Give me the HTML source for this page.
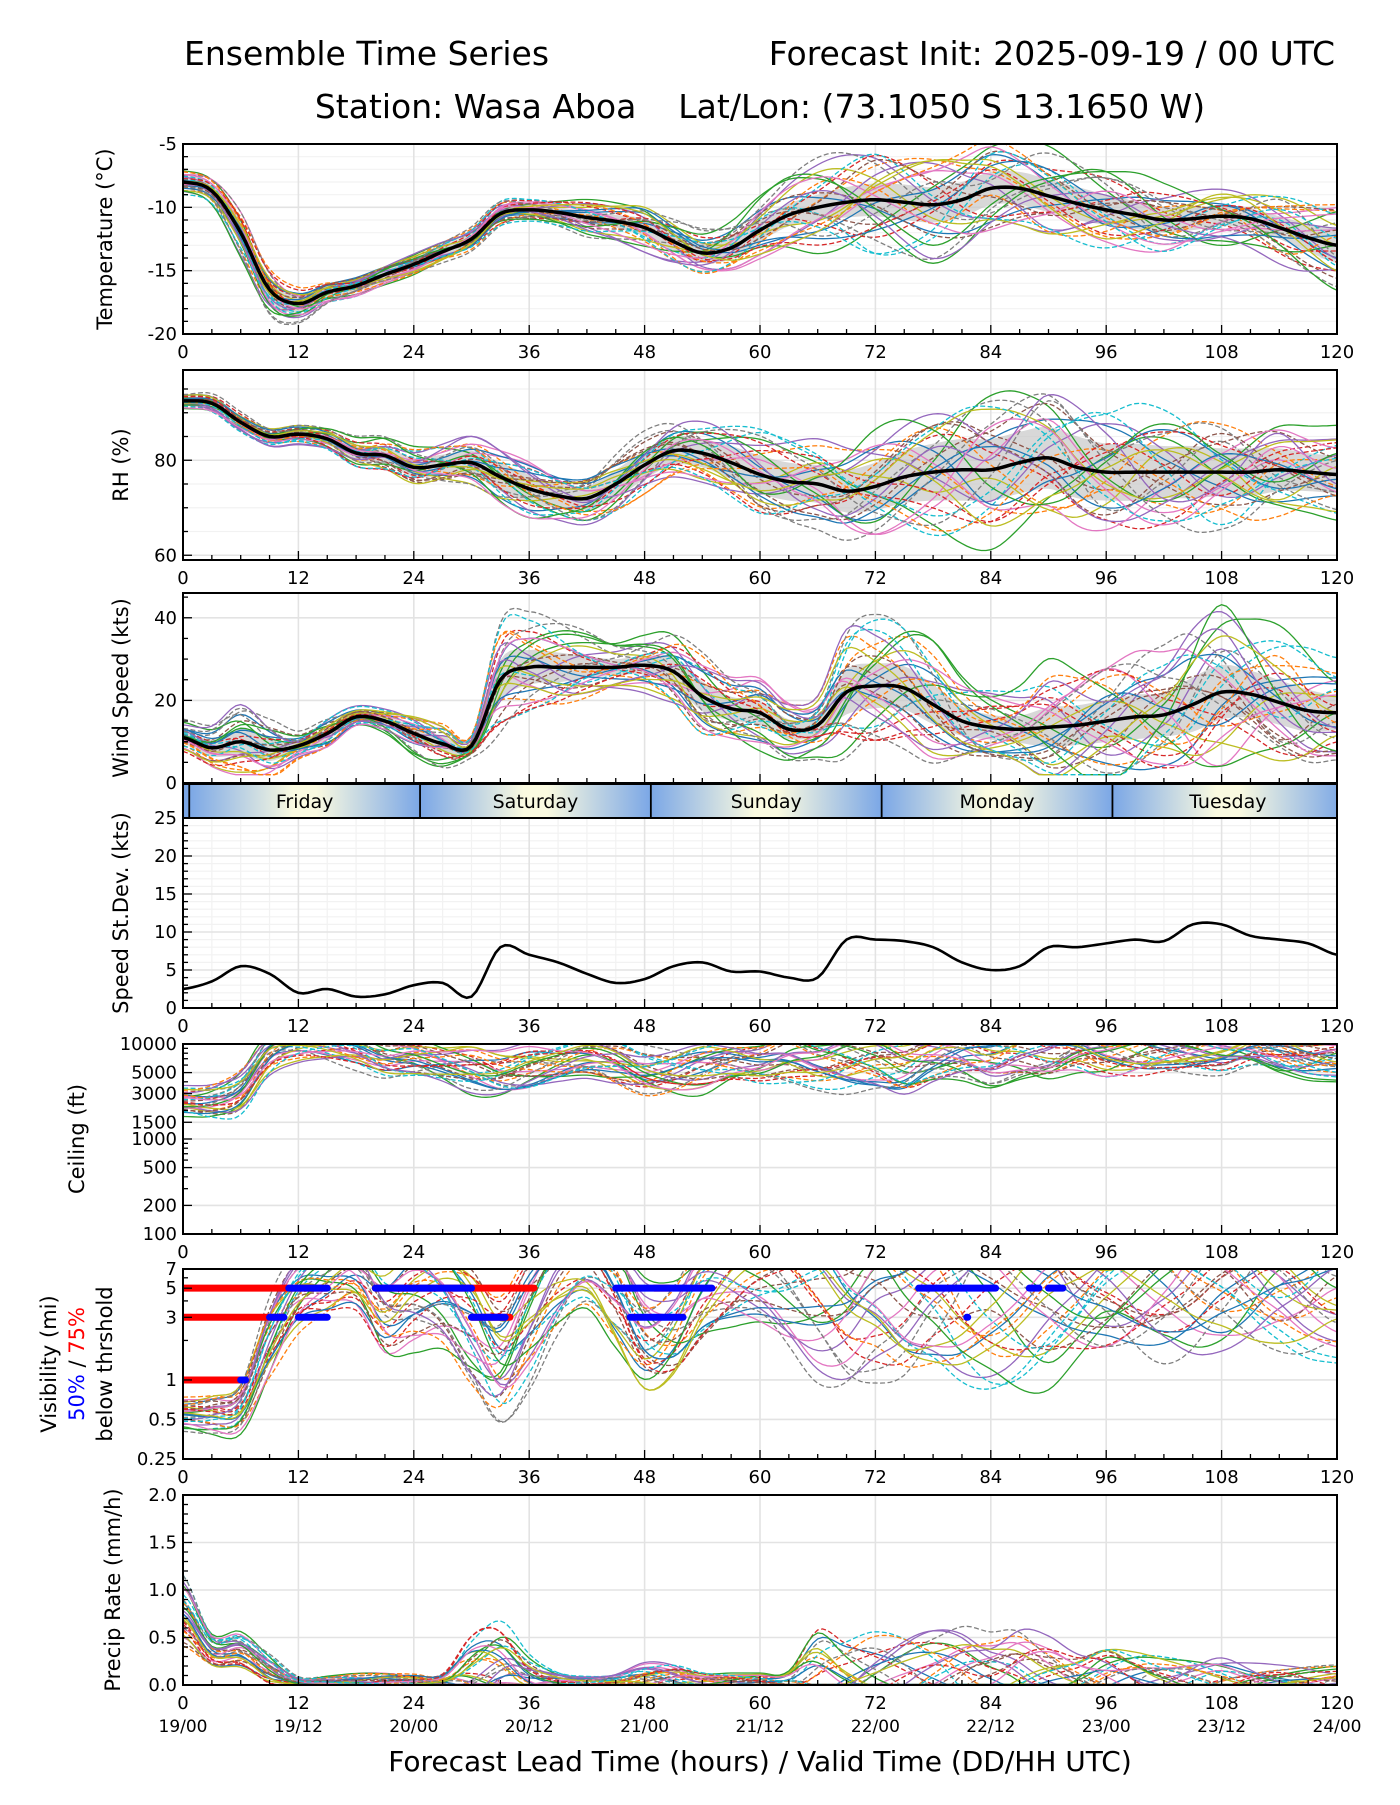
<!DOCTYPE html>
<html><head><meta charset="utf-8"><style>
html,body{margin:0;padding:0;background:#fff}
svg text{font-family:"DejaVu Sans","Liberation Sans",sans-serif}
</style></head><body>
<svg id="chart" xmlns="http://www.w3.org/2000/svg" width="1400" height="1800" viewBox="0 0 1400 1800">
<rect width="1400" height="1800" fill="#fff"/>
<text x="184" y="65" font-size="33">Ensemble Time Series</text>
<text x="1335" y="65" font-size="33" text-anchor="end">Forecast Init: 2025-09-19 / 00 UTC</text>
<text x="760" y="118" font-size="33" text-anchor="middle" xml:space="preserve">Station: Wasa Aboa    Lat/Lon: (73.1050 S 13.1650 W)</text>
<g id="plots"></g>
<text x="760" y="1771" font-size="28" text-anchor="middle">Forecast Lead Time (hours) / Valid Time (DD/HH UTC)</text>
</svg>
<script>
// ---- data ----
const hours = [0,3,6,9,12,15,18,21,24,27,30,33,36,39,42,45,48,51,54,57,60,63,66,69,72,75,78,81,84,87,90,93,96,99,102,105,108,111,114,117,120];
const tempMean = [-8,-8.7,-12,-16.5,-17.6,-16.7,-16.2,-15.3,-14.5,-13.5,-12.5,-10.5,-10.2,-10.4,-10.8,-11.1,-11.6,-12.7,-13.6,-13.2,-11.8,-10.6,-10.0,-9.6,-9.4,-9.6,-9.8,-9.4,-8.5,-8.5,-9.1,-9.7,-10.2,-10.6,-11.0,-10.9,-10.7,-10.9,-11.6,-12.4,-13.0];
const tempSpread = [0.5,0.6,0.9,0.9,0.7,0.6,0.5,0.5,0.5,0.5,0.5,0.5,0.4,0.4,0.5,0.5,0.7,0.8,0.8,0.9,0.9,0.9,1.0,1.2,1.3,1.4,1.4,1.4,1.3,1.3,1.3,1.3,1.2,1.1,1.0,0.9,0.8,0.8,0.9,1.1,1.4];
const tempMemberSpread = [0.6,0.7,1.1,1.1,0.8,0.6,0.5,0.5,0.5,0.5,0.5,0.6,0.5,0.6,0.8,0.9,1.1,1.1,1.0,1.1,1.3,1.6,1.9,2.2,2.4,2.4,2.4,2.3,2.2,2.0,1.9,1.8,1.7,1.6,1.4,1.3,1.2,1.3,1.5,1.8,2.0];
const rhMean = [92.5,92,88,85,85.5,84.5,81.5,81,78.5,79,79.5,76.5,74,72.5,72,75,79,82,81.5,79.5,77,75.5,75,73.5,74.5,76.5,77.5,78,78,79.5,80.5,78.5,77.5,77.5,77.5,77.5,77.5,77.5,78,77.5,77];
const rhSpread = [0.8,1,1,1,1,1.2,1.5,1.8,2,2.2,2.5,3,3,2.5,2.5,3,3,3,3,3.5,4,4,4,4.5,5,5.5,6,6.5,6.5,6.5,6.5,6.5,6,6,5.5,5.5,5,5,4.5,4,4];
const windMean = [11,8.5,10,8,9,12,16,15,12,9.5,9,25,28,28,28,28,28.5,27,21,18,17,13,14,22,23.5,23,19,15,13.5,13,13.5,14,15,16,16.5,19,22,21.5,19.5,17.5,17];
const windStd = [2.5,3.5,5.5,4.5,2,2.5,1.5,1.8,3,3.3,1.5,8,7,6,4.5,3.3,3.8,5.5,6,4.8,4.8,4,4,9,9,8.8,8,6,5,5.5,8,8,8.5,9,8.8,11,11,9.5,9,8.5,7];
const ceilMean = [3.4,3.4,3.5,3.9,4.0,4.0,3.95,3.85,3.85,3.8,3.75,3.7,3.75,3.8,3.85,3.8,3.7,3.7,3.75,3.8,3.8,3.85,3.8,3.8,3.8,3.75,3.85,3.9,3.85,3.9,3.9,3.95,3.9,3.9,3.9,3.9,3.9,3.95,3.9,3.85,3.85];
const ceilSpread = [0.1,0.12,0.15,0.15,0.12,0.12,0.12,0.12,0.12,0.12,0.15,0.15,0.15,0.12,0.12,0.15,0.15,0.15,0.15,0.12,0.12,0.15,0.15,0.18,0.18,0.18,0.15,0.15,0.15,0.15,0.15,0.15,0.15,0.15,0.12,0.12,0.12,0.12,0.12,0.12,0.12];
const visMean = [-0.25,-0.25,-0.2,0.3,0.65,0.75,0.8,0.55,0.65,0.65,0.45,0.2,0.5,0.8,0.9,0.65,0.3,0.35,0.65,0.8,0.85,0.8,0.7,0.6,0.65,0.6,0.65,0.6,0.6,0.6,0.65,0.65,0.7,0.7,0.7,0.7,0.75,0.75,0.75,0.7,0.7];
const visSpread = [0.08,0.1,0.12,0.2,0.2,0.2,0.2,0.25,0.25,0.25,0.3,0.3,0.3,0.25,0.2,0.25,0.25,0.25,0.25,0.25,0.25,0.3,0.35,0.35,0.35,0.35,0.35,0.35,0.35,0.35,0.35,0.3,0.3,0.3,0.3,0.3,0.3,0.3,0.3,0.3,0.3];
const precipMean = [0.75,0.35,0.35,0.15,0.03,0.03,0.04,0.05,0.04,0.05,0.15,0.2,0.06,0.03,0.02,0.03,0.06,0.06,0.03,0.02,0.02,0.02,0.03,0.03,0.03,0.04,0.04,0.04,0.04,0.05,0.04,0.03,0.03,0.03,0.03,0.02,0.02,0.02,0.02,0.02,0.02];
const precipSpread = [0.25,0.12,0.12,0.1,0.03,0.04,0.05,0.05,0.05,0.05,0.25,0.3,0.15,0.06,0.04,0.05,0.1,0.1,0.06,0.06,0.06,0.08,0.35,0.3,0.3,0.3,0.3,0.3,0.25,0.3,0.25,0.2,0.25,0.2,0.15,0.15,0.15,0.12,0.1,0.1,0.1];
const red5 = [[0,15],[20,36.5],[49,50.5]];
const blue5 = [[11,15],[20,30],[45,55],[76.5,84.5],[88,89],[90,91.5]];
const red3 = [[0,10],[30,34]];
const blue3 = [[9,10.5],[12,15],[30,33.5],[46.5,52],[81.5,81.6]];
const red1 = [[0,6]];
const blue1 = [[6,6.5]];
const days = ["Friday","Saturday","Sunday","Monday","Tuesday"];
const dateLabels = ["19/00","19/12","20/00","20/12","21/00","21/12","22/00","22/12","23/00","23/12","24/00"];
const devs = [
[0.2,0.5,0.9,1.1,0.6,-0.2,-0.8,-0.5,0.3,1.0,1.2,0.4,-0.3,-0.9,-1.2,-0.4,0.5,1.1,0.8,0.1,-0.5],
[-0.6,-1.0,-0.4,0.3,0.9,1.3,0.7,-0.1,-0.8,-1.2,-0.6,0.2,0.9,1.2,0.5,-0.3,-1.0,-0.7,0.2,0.8,1.1],
[1.0,0.6,-0.2,-0.9,-1.1,-0.3,0.6,1.2,0.8,-0.1,-0.7,-1.3,-0.6,0.4,1.0,1.4,0.6,-0.4,-1.1,-0.8,0.0],
[-0.3,0.2,0.7,0.2,-0.5,-1.0,-1.2,-0.4,0.6,1.1,0.3,-0.6,-1.1,-0.2,0.8,1.0,1.3,0.4,-0.5,-1.2,-0.9],
[0.5,-0.3,-1.0,-0.6,0.4,1.0,0.3,-0.7,-1.3,-0.5,0.7,1.3,1.0,0.1,-0.8,-1.1,-0.2,0.9,1.3,0.5,-0.4],
[-1.1,-0.6,0.1,0.8,1.2,0.4,-0.4,-1.0,-0.2,0.5,1.0,0.6,-0.2,-1.0,-1.4,-0.7,0.3,0.7,-0.1,-0.9,-1.3],
[0.8,1.2,0.6,-0.2,-0.6,0.2,1.0,0.6,-0.3,-1.0,-1.4,-0.8,0.2,0.9,0.4,-0.5,-1.2,-1.4,-0.3,0.6,1.2],
[-0.4,-0.9,-1.2,-0.5,0.3,-0.1,-0.9,-1.3,-0.6,0.4,0.9,1.4,0.8,-0.1,-0.6,0.2,1.0,0.5,-0.6,-0.2,0.6],
[0.0,0.4,0.3,-0.4,-1.2,-0.8,0.2,0.9,1.3,0.7,-0.2,-0.5,0.4,1.3,0.9,0.0,-0.5,0.2,1.0,1.4,0.7],
[0.6,0.1,-0.6,-1.2,-0.7,0.5,1.1,0.4,-0.5,-0.3,0.5,-0.2,-1.3,-0.8,0.3,0.8,-0.2,-1.0,-0.4,0.3,-0.6],
[-0.8,-0.4,0.4,1.3,0.8,-0.4,-0.3,0.5,1.0,0.3,-0.9,-1.0,-0.1,0.5,1.2,0.6,-0.7,-0.2,0.7,-0.4,-1.0],
[0.3,0.9,1.3,0.5,-0.3,-1.3,-0.6,0.2,-0.4,-1.3,-0.3,0.8,0.3,-0.5,-0.2,-1.2,-0.8,0.6,0.3,-1.0,0.3],
[-0.1,-0.5,-0.8,0.0,1.0,0.7,-0.5,-1.1,-0.9,0.1,1.3,0.9,-0.5,-1.3,-0.7,0.4,1.2,0.1,-1.3,-0.1,0.9],
[1.2,0.8,0.0,-0.3,0.2,0.9,1.3,1.0,0.2,-0.6,-0.1,0.6,1.3,0.6,-0.9,-0.6,0.4,1.3,0.5,-0.7,-0.2],
[-0.9,-1.2,-0.3,0.6,0.0,-0.7,0.1,1.0,0.5,-0.8,-1.1,-0.4,0.6,1.0,0.1,-1.0,-0.4,-0.8,-1.0,0.2,0.5],
[0.4,0.0,-0.5,-0.8,-0.2,0.3,-0.2,-0.6,0.0,0.8,0.6,-0.3,-0.8,0.2,1.3,0.9,-0.1,-0.6,0.1,1.1,1.4]
];
const colors = ["#1f77b4","#ff7f0e","#2ca02c","#d62728","#9467bd","#8c564b","#e377c2","#7f7f7f","#bcbd22","#17becf"];

// ---- layout ----
const X0 = 183, X1 = 1337;
const NS = "http://www.w3.org/2000/svg";
const root = document.getElementById("plots");
const xS = h => X0 + (h / 120) * (X1 - X0);
function mk(tag, attrs, parent) {
  const e = document.createElementNS(NS, tag);
  for (const k in attrs) e.setAttribute(k, attrs[k]);
  (parent || root).appendChild(e);
  return e;
}
function interp(arr, h, step) {
  const i = Math.min(Math.floor(h / step), arr.length - 2);
  const t = h / step - i;
  const a = arr[Math.max(i - 1, 0)], b = arr[i], c = arr[i + 1], d = arr[Math.min(i + 2, arr.length - 1)];
  return 0.5 * ((2 * b) + (-a + c) * t + (2 * a - 5 * b + 4 * c - d) * t * t + (-a + 3 * b - 3 * c + d) * t * t * t);
}
function pathFrom(fn, yS) {
  let d = "";
  for (let h = 0; h <= 120.001; h += 0.5) {
    d += (h === 0 ? "M" : "L") + xS(h).toFixed(1) + "," + yS(fn(h)).toFixed(1);
  }
  return d;
}

function panel(cfg) {
  const g = mk("g", {});
  
  
  const top = cfg.top, bot = cfg.top + 190;
  const yS = cfg.yS(top, bot);
  const clipId = "clip-" + cfg.name;
  const cp = mk("clipPath", { id: clipId }, g);
  mk("rect", { x: X0, y: top, width: X1 - X0, height: bot - top }, cp);
  (cfg.minorY || []).forEach(v => mk("line", { x1: X0, x2: X1, y1: yS(v), y2: yS(v), stroke: "#f2f2f2", "stroke-width": 1.2 }, g));
  if (cfg.minorX) for (let h = 3; h < 120; h += 3) if (h % 12) mk("line", { x1: xS(h), x2: xS(h), y1: top, y2: bot, stroke: "#f2f2f2", "stroke-width": 1.2 }, g);
  for (let h = 12; h < 120; h += 12) mk("line", { x1: xS(h), x2: xS(h), y1: top, y2: bot, stroke: "#e3e3e3", "stroke-width": 1.6 }, g);
  cfg.ticks.forEach(v => mk("line", { x1: X0, x2: X1, y1: yS(v), y2: yS(v), stroke: "#e3e3e3", "stroke-width": 1.6 }, g));
  const data = mk("g", { "clip-path": "url(#" + clipId + ")" }, g);
  if (cfg.draw) cfg.draw(data, yS);
  const fr = mk("rect", { x: X0, y: top, width: X1 - X0, height: bot - top, fill: "none", stroke: "#000", "stroke-width": 2 }, g);
  
  
  for (let h = 0; h <= 120; h += 3) {
    const len = h % 12 ? 5 : 9;
    mk("line", { x1: xS(h), x2: xS(h), y1: bot, y2: bot - len, stroke: "#000", "stroke-width": 1.3 }, g);
  }
  if (cfg.xlabels !== false) for (let h = 0; h <= 120; h += 12) {
    const t = mk("text", { x: xS(h), y: bot + 24, "font-size": 18, "text-anchor": "middle" }, g);
    t.textContent = h;
    
    
  }
  (cfg.minorTicks || []).forEach(v => mk("line", { x1: X0, x2: X0 + 5, y1: yS(v), y2: yS(v), stroke: "#000", "stroke-width": 1.3 }, g));
  cfg.ticks.forEach((v, i) => {
    mk("line", { x1: X0, x2: X0 + 9, y1: yS(v), y2: yS(v), stroke: "#000", "stroke-width": 1.3 }, g);
    const t = mk("text", { x: X0 - 6, y: yS(v) + 6, "font-size": 18, "text-anchor": "end" }, g);
    t.textContent = cfg.tickLabels ? cfg.tickLabels[i] : v;
    
    
  });
  if (cfg.ylabel) {
    const t = mk("text", { x: cfg.ylx, y: (top + bot) / 2, "font-size": 21, "text-anchor": "middle", transform: "rotate(-90 " + cfg.ylx + " " + (top + bot) / 2 + ")" }, g);
    t.textContent = cfg.ylabel;
    
    
  }
  return { g, yS, top, bot };
}

function members(parent, yS, mean, spread, offset, clampFn, widthScale) {
  for (let i = 0; i < 30; i++) {
    const dv = devs[(i + offset) % 16];
    const sg = i >= 16 ? -1 : 1;
    const sc = 1 + ((i * 7) % 5) * 0.12;
    const fn = h => {
      let v = interp(mean, h, 3) + sg * sc * interp(spread, h, 3) * interp(dv, h, 6);
      return clampFn ? clampFn(v) : v;
    };
    const p = mk("path", { d: pathFrom(fn, yS), fill: "none", stroke: colors[i % 10], "stroke-width": 1.3 * (widthScale || 1) }, parent);
    if (i % 2) p.setAttribute("stroke-dasharray", "5,2.5");
    
    
  }
}
function band(parent, yS, mean, spread) {
  let d = "";
  for (let h = 0; h <= 120; h += 0.5) d += (h === 0 ? "M" : "L") + xS(h).toFixed(1) + "," + yS(interp(mean, h, 3) + interp(spread, h, 3)).toFixed(1);
  for (let h = 120; h >= 0; h -= 0.5) d += "L" + xS(h).toFixed(1) + "," + yS(interp(mean, h, 3) - interp(spread, h, 3)).toFixed(1);
  const p = mk("path", { d: d + "Z", fill: "#c8c8c8", "fill-opacity": 0.7 }, parent);
  
  
}
function meanLine(parent, yS, mean, w) {
  const p = mk("path", { d: pathFrom(h => interp(mean, h, 3), yS), fill: "none", stroke: "#000", "stroke-width": w || 3.5 }, parent);
  
  
}
const lin = (lo, hi) => (top, bot) => v => bot - (v - lo) / (hi - lo) * (bot - top);
const logS = (lo, hi) => (top, bot) => v => bot - (Math.log(v) - Math.log(lo)) / (Math.log(hi) - Math.log(lo)) * (bot - top);

panel({ name: "temperature", top: 144, yS: lin(-20, -5), ticks: [-20, -15, -10, -5], ylabel: "Temperature (°C)", ylx: 112,
  minorY: [-19,-18,-17,-16,-14,-13,-12,-11,-9,-8,-7,-6], minorTicks: [-19,-18,-17,-16,-14,-13,-12,-11,-9,-8,-7,-6],
  draw: (g, yS) => { band(g, yS, tempMean, tempSpread); members(g, yS, tempMean, tempMemberSpread, 0); meanLine(g, yS, tempMean); } });
panel({ name: "rh", top: 370, yS: lin(59, 99), ticks: [60, 80], ylabel: "RH (%)", ylx: 128,
  minorY: [65,70,75,85,90,95], minorTicks: [65,70,75,85,90,95],
  draw: (g, yS) => { band(g, yS, rhMean, rhSpread); members(g, yS, rhMean, rhSpread.map(v => v * 1.25), 3); meanLine(g, yS, rhMean); } });
panel({ name: "wind-speed", top: 593, yS: lin(0, 46), ticks: [0, 20, 40], ylabel: "Wind Speed (kts)", ylx: 128,
  minorTicks: [5,10,15,25,30,35,45], xlabels: false,
  draw: (g, yS) => { band(g, yS, windMean, windStd.map(v => v * 0.6)); members(g, yS, windMean, windStd, 6, v => Math.max(v, 2)); meanLine(g, yS, windMean); } });
(function () {
  const g = mk("g", {});
  
  
  const defs = mk("defs", {}, g);
  const lg = mk("linearGradient", { id: "dayGrad", x1: 0, x2: 1, y1: 0, y2: 0 }, defs);
  [[0, "#7ba7e6"], [0.45, "#fafae0"], [0.55, "#fafae0"], [1, "#7ba7e6"]].forEach(s => mk("stop", { offset: s[0], "stop-color": s[1] }, lg));
  mk("rect", { x: X0, y: 784, width: X1 - X0, height: 34, fill: "#7ba7e6" }, g);
  const start = 0.65;
  days.forEach((d, i) => {
    const a = start + 24 * i;
    mk("rect", { x: xS(a), y: 784, width: xS(a + 24) - xS(a), height: 34, fill: "url(#dayGrad)" }, g);
    mk("line", { x1: xS(a), x2: xS(a), y1: 784, y2: 818, stroke: "#000", "stroke-width": 1.8 }, g);
    const t = mk("text", { x: xS(a + 12), y: 808, "font-size": 19, "text-anchor": "middle" }, g);
    t.textContent = d;
    
    
  });
  mk("rect", { x: X1, y: 784, width: 10, height: 34, fill: "#fff" }, g);
  mk("rect", { x: X0, y: 784, width: X1 - X0, height: 34, fill: "none", stroke: "#000", "stroke-width": 2 }, g);
})();
panel({ name: "speed-stdev", top: 818, yS: lin(0, 25), ticks: [0, 5, 10, 15, 20, 25], ylabel: "Speed St.Dev. (kts)", ylx: 128, minorX: true,
  minorY: [1,2,3,4,6,7,8,9,11,12,13,14,16,17,18,19,21,22,23,24], minorTicks: [1,2,3,4,6,7,8,9,11,12,13,14,16,17,18,19,21,22,23,24],
  draw: (g, yS) => meanLine(g, yS, windStd, 2.6) });
panel({ name: "ceiling", top: 1044, yS: logS(100, 10000), ticks: [100, 200, 500, 1000, 1500, 3000, 5000, 10000], ylabel: "Ceiling (ft)", ylx: 84,
  minorTicks: [300,400,600,700,800,900,2000,4000,6000,7000,8000,9000],
  draw: (g, yS) => members(g, yS, ceilMean, ceilSpread, 9, v => Math.pow(10, Math.min(v, 4.01))) });
(function () {
  const p = panel({ name: "visibility", top: 1269, yS: logS(0.25, 7), ticks: [0.25, 0.5, 1, 3, 5, 7], minorTicks: [2, 4, 6],
    draw: (g, yS) => {
      members(g, yS, visMean, visSpread, 12, v => Math.pow(10, Math.min(v, 0.86)));
      const seg = (list, val, col, w) => list.forEach(s => {
        const l = mk("line", { x1: xS(s[0]), x2: xS(s[1]), y1: yS(val), y2: yS(val), stroke: col, "stroke-width": w, "stroke-linecap": "round" }, g);
        
        
      });
      seg(red5, 5, "#ff0000", 7); seg(red3, 3, "#ff0000", 7); seg(red1, 1, "#ff0000", 7);
      seg(blue5, 5, "#0000ff", 7); seg(blue3, 3, "#0000ff", 7); seg(blue1, 1, "#0000ff", 7);
    } });
  const cy = (p.top + p.bot) / 2;
  const mkT = (x, parts, name) => {
    const t = mk("text", { x: x, y: cy, "font-size": 21, "text-anchor": "middle", transform: "rotate(-90 " + x + " " + cy + ")" });
    
    
    parts.forEach(pt => { const s = mk("tspan", { fill: pt[1] }, t); s.textContent = pt[0]; });
  };
  mkT(56, [["Visibility (mi)", "#000"]], "visibility-y-axis-title");
  mkT(84, [["50%", "#0000ff"], [" / ", "#000"], ["75%", "#ff0000"]], "visibility-percent-legend");
  mkT(112, [["below thrshold", "#000"]], "visibility-threshold-label");
})();
(function () {
  const p = panel({ name: "precip-rate", top: 1495, yS: lin(0, 2), ticks: [0, 0.5, 1, 1.5, 2], tickLabels: ["0.0", "0.5", "1.0", "1.5", "2.0"],
    ylabel: "Precip Rate (mm/h)", ylx: 120, minorTicks: [0.1,0.2,0.3,0.4,0.6,0.7,0.8,0.9,1.1,1.2,1.3,1.4,1.6,1.7,1.8,1.9],
    draw: (g, yS) => members(g, yS, precipMean, precipSpread, 4, v => Math.max(v, 0.005)) });
  dateLabels.forEach((d, i) => {
    const t = mk("text", { x: xS(i * 12), y: p.bot + 47, "font-size": 17, "text-anchor": "middle" });
    t.textContent = d;
    
    
  });
})();
</script>
</body></html>
